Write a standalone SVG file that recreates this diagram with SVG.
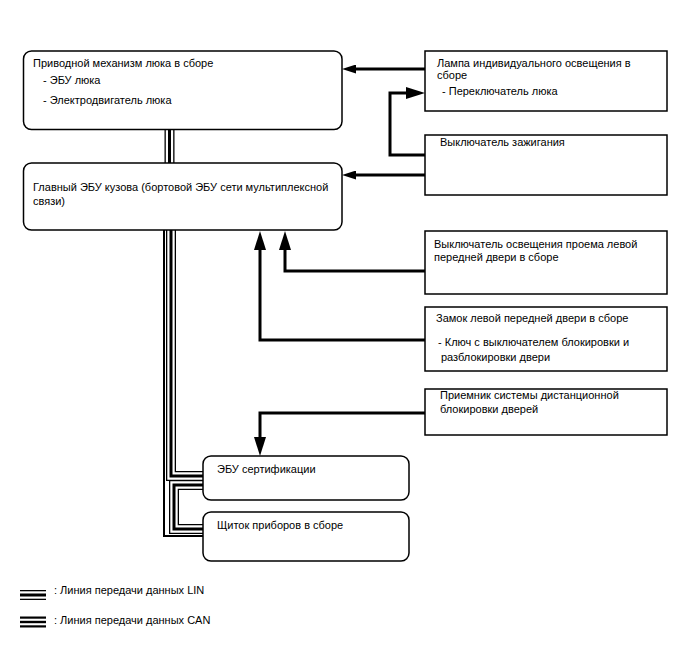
<svg xmlns="http://www.w3.org/2000/svg" width="688" height="658" viewBox="0 0 688 658">
<style>
text{font-family:"Liberation Sans",Arial,sans-serif;font-size:11px;fill:#000}
.rb{fill:#fff;stroke:#000;stroke-width:1.5}
.sb{fill:#fff;stroke:#000;stroke-width:1.5}
.cn{fill:none;stroke:#000;stroke-width:3}
.o{fill:none;stroke:#000}
.w{fill:none;stroke:#fff}
.lin1{stroke-width:10}.lin2{stroke-width:7.4}.lin3{stroke-width:3}
.can1{stroke-width:11}.can2{stroke-width:6.6}.can3{stroke-width:2.4}
</style>
<defs>
<marker id="big" markerUnits="userSpaceOnUse" markerWidth="19" markerHeight="12" refX="0" refY="6" orient="auto"><path d="M0,0 L19,6 L0,12 z" fill="#000"/></marker>
<marker id="small" markerUnits="userSpaceOnUse" markerWidth="14" markerHeight="9" refX="0" refY="4.5" orient="auto"><path d="M0,0 L14,4.5 L0,9 z" fill="#000"/></marker>
</defs>
<rect width="688" height="658" fill="#fff"/>
<g id="connectors">
<path class="o lin1" d="M169.5,129 V164"/>
<path class="w lin2" d="M169.5,129 V164"/>
<path class="o lin3" d="M169.5,129 V164"/>
<path class="o" stroke-width="2" d="M164,230 V536 H203"/>
<path class="o lin1" d="M171,230 V476 H203"/>
<path class="w lin2" d="M171,230 V476 H203"/>
<path class="o lin3" d="M171,230 V476 H203"/>
<path class="o lin1" d="M203,485 H174 V529 H203"/>
<path class="w lin2" d="M203,485 H174 V529 H203"/>
<path class="o lin3" d="M203,485 H174 V529 H203"/>
<path class="cn" d="M425,69 H356" marker-end="url(#small)"/>
<path class="cn" d="M425,155 H390 V93 H406" marker-end="url(#big)"/>
<path class="cn" d="M425,175 H356" marker-end="url(#small)"/>
<path class="cn" d="M425,271 H285 V250" marker-end="url(#big)"/>
<path class="cn" d="M425,340 H260 V250" marker-end="url(#big)"/>
<path class="cn" d="M425,413 H260 V437" marker-end="url(#big)"/>
</g>
<g id="sunroof">
<rect class="rb" x="23.5" y="51" width="318.5" height="78.5" rx="8"/>
<text x="33" y="67">Приводной механизм люка в сборе</text>
<text x="43" y="84">- ЭБУ люка</text>
<text x="43" y="104">- Электродвигатель люка</text>
</g>
<g id="main-ecu">
<rect class="rb" x="23.5" y="163" width="318.5" height="67" rx="8"/>
<text x="33" y="191">Главный ЭБУ кузова (бортовой ЭБУ сети мультиплексной</text>
<text x="33" y="205">связи)</text>
</g>
<g id="lamp">
<rect class="sb" x="425" y="51" width="242" height="60"/>
<text x="437" y="67">Лампа индивидуального освещения в</text>
<text x="437" y="79">сборе</text>
<text x="442" y="95">- Переключатель люка</text>
</g>
<g id="ignition">
<rect class="sb" x="425" y="135" width="242" height="60"/>
<text x="440" y="146">Выключатель зажигания</text>
</g>
<g id="door-switch">
<rect class="sb" x="425" y="231" width="242" height="63"/>
<text x="434" y="248">Выключатель освещения проема левой</text>
<text x="434" y="261">передней двери в сборе</text>
</g>
<g id="door-lock">
<rect class="sb" x="425" y="307" width="242" height="64"/>
<text x="436" y="322">Замок левой передней двери в сборе</text>
<text x="438" y="346">- Ключ с выключателем блокировки и</text>
<text x="441" y="361">разблокировки двери</text>
</g>
<g id="receiver">
<rect class="sb" x="425" y="389" width="242" height="46"/>
<text x="440" y="399">Приемник системы дистанционной</text>
<text x="440" y="413">блокировки дверей</text>
</g>
<g id="cert-ecu">
<rect class="rb" x="203" y="456" width="206" height="44" rx="8"/>
<text x="217" y="473">ЭБУ сертификации</text>
</g>
<g id="meter">
<rect class="rb" x="203" y="512" width="206" height="49" rx="8"/>
<text x="217" y="529">Щиток приборов в сборе</text>
</g>
<g id="legend">
<path class="o lin1" d="M20,595 H46"/>
<path class="w lin2" d="M20,595 H46"/>
<path class="o lin3" d="M20,595 H46"/>
<text x="54" y="594">: Линия передачи данных LIN</text>
<path class="o can1" d="M20,622 H46"/>
<path class="w can2" d="M20,622 H46"/>
<path class="o can3" d="M20,622 H46"/>
<text x="54" y="624">: Линия передачи данных CAN</text>
</g>
</svg>
